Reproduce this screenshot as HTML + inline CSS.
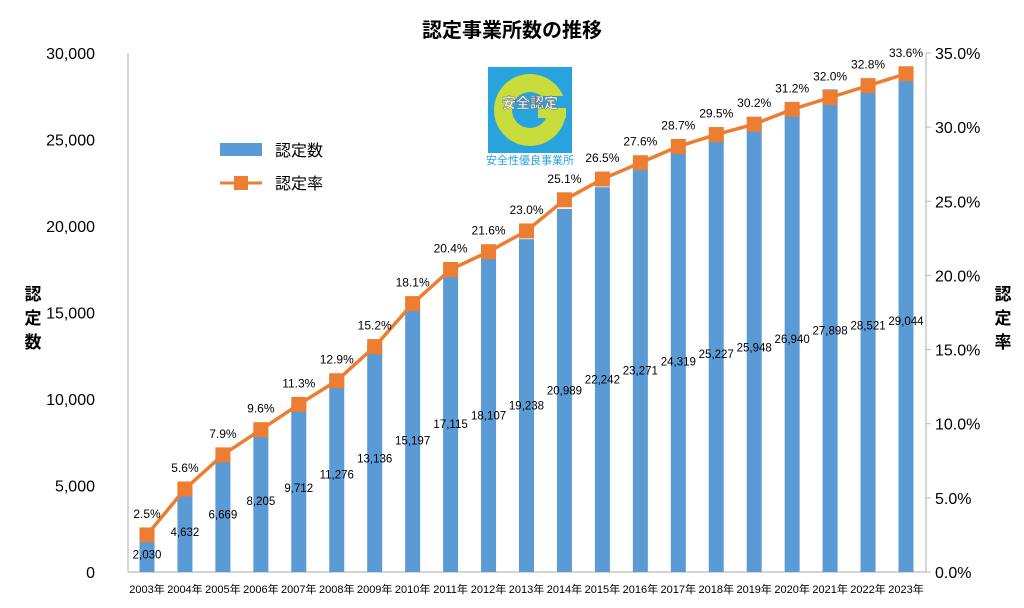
<!DOCTYPE html>
<html><head><meta charset="utf-8"><style>
body{margin:0;background:#fff;}
text{font-family:"Liberation Sans","Noto Sans CJK JP",sans-serif;}
</style></head><body>
<svg width="1024" height="603" viewBox="0 0 1024 603" xmlns="http://www.w3.org/2000/svg">
<text x="512" y="37" text-anchor="middle" font-size="20" font-weight="bold" fill="#000">認定事業所数の推移</text>
<g id="ax" stroke="#bbb" stroke-width="1.2" fill="none">
<line x1="128" y1="53" x2="128" y2="572"/>
<line x1="128" y1="572" x2="926" y2="572"/>
<line x1="926" y1="53" x2="926" y2="572"/>
</g>
<g id="content"></g>
<g font-size="16" fill="#000" text-anchor="end" id="lt"></g>
<g font-size="16" fill="#000" id="rt"></g>
<text font-size="17" font-weight="bold" x="33" y="300" text-anchor="middle">認</text>
<text font-size="17" font-weight="bold" x="33" y="324" text-anchor="middle">定</text>
<text font-size="17" font-weight="bold" x="33" y="348" text-anchor="middle">数</text>
<text font-size="17" font-weight="bold" x="1003" y="300" text-anchor="middle">認</text>
<text font-size="17" font-weight="bold" x="1003" y="324" text-anchor="middle">定</text>
<text font-size="17" font-weight="bold" x="1003" y="348" text-anchor="middle">率</text>
<rect x="220" y="143" width="42" height="13" fill="#5b9bd5"/>
<text x="275" y="156" font-size="16">認定数</text>
<line x1="220" y1="183" x2="262" y2="183" stroke="#ed7d31" stroke-width="3"/>
<rect x="234" y="176" width="14" height="14" fill="#ed7d31"/>
<text x="275" y="189" font-size="16">認定率</text>
<rect x="488" y="67" width="84" height="86" fill="#29a3dd"/>
<circle cx="530" cy="110" r="36" fill="#c8dc3c"/>
<circle cx="530" cy="110" r="18" fill="#29a3dd"/>
<rect x="530" y="96" width="40" height="14" fill="#29a3dd"/>
<rect x="538" y="108" width="28" height="10" fill="#c8dc3c"/>
<text x="530" y="108" text-anchor="middle" font-size="14" font-weight="bold" fill="#fff" stroke="#666" stroke-width="0.5">安全認定</text>
<rect x="486" y="153" width="88" height="13" fill="#fff"/>
<text x="530" y="164" text-anchor="middle" font-size="11" fill="#29a3dd">安全性優良事業所</text>
</svg>
<script>
const cnt=[2030,4632,6669,8205,9712,11276,13136,15197,17115,18107,19238,20989,22242,23271,24319,25227,25948,26940,27898,28521,29044];
const pct=[2.5,5.6,7.9,9.6,11.3,12.9,15.2,18.1,20.4,21.6,23.0,25.1,26.5,27.6,28.7,29.5,30.2,31.2,32.0,32.8,33.6];
const y0=572,H=519;
const yl=v=>y0-v*H/30000, yr=p=>y0-p*H/35, xc=i=>147+i*37.95;
let s='';
cnt.forEach((v,i)=>{const x=xc(i),t=yl(v);
s+=`<rect x="${x-7.5}" y="${t}" width="15" height="${y0-t}" fill="#5b9bd5"/>`;
s+=`<text x="${x}" y="${(t+y0)/2+4}" text-anchor="middle" font-size="11.5">${v.toLocaleString('en-US')}</text>`;
s+=`<text x="${x}" y="593" text-anchor="middle" font-size="11">${2003+i}年</text>`;});
s+=`<polyline fill="none" stroke="#ed7d31" stroke-width="3.5" points="${pct.map((p,i)=>xc(i)+','+yr(p)).join(' ')}"/>`;
pct.forEach((p,i)=>{const x=xc(i),y=yr(p);
s+=`<rect x="${x-7.5}" y="${y-7.5}" width="15" height="15" fill="#ed7d31"/>`;
s+=`<text x="${x}" y="${y-17}" text-anchor="middle" font-size="12">${p.toFixed(1)}%</text>`;});
document.getElementById('content').innerHTML=s;
let l='',r='';
for(let k=0;k<=6;k++){const v=k*5000,y=yl(v);
l+=`<text x="95" y="${y+6}">${v.toLocaleString('en-US')}</text>`;}
for(let k=0;k<=7;k++){const p=k*5;r+=`<text x="935" y="${yr(p)+6}">${p.toFixed(1)}%</text><line x1="926" y1="${yr(p)}" x2="931" y2="${yr(p)}" stroke="#bbb"/>`;}
document.getElementById('lt').innerHTML=l;document.getElementById('rt').innerHTML=r;
</script>
</body></html>
